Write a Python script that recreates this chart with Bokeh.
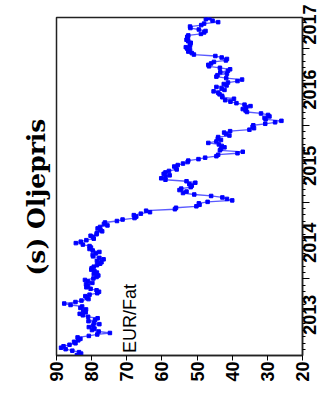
import math
import pandas as pd
from bokeh.plotting import figure
from bokeh.models import Range1d, FixedTicker, Label, CustomJSTickFormatter, DatetimeAxis
from bokeh.embed import file_html
from bokeh.resources import INLINE

# Weekly oil price (EUR per barrel)
oil_2013 = [84.2, 83.0, 83.6, 85.5, 87.4, 88.7, 88.0, 86.3, 84.6, 85.0, 83.8, 83.2, 84.0,
            80.8, 78.4, 74.8, 78.0, 79.9, 79.2, 80.8, 79.6, 77.8, 79.3, 80.9, 79.0, 78.3,
            81.0, 82.5, 83.4, 81.7, 82.4, 81.6, 83.2, 82.7, 86.0, 87.8, 84.6, 82.9, 80.9,
            81.4, 81.8, 80.6, 78.4, 77.9, 78.6, 80.3, 81.5, 81.0, 81.6, 79.8, 81.0, 81.9]
oil_2014 = [79.5, 78.6, 78.1, 79.4, 78.5, 79.2, 80.1, 80.0, 79.4, 78.5, 77.6, 77.2, 78.5,
            76.6, 77.8, 79.6, 79.7, 78.8, 77.8, 79.7, 80.6, 80.2, 80.6, 82.5, 84.5, 83.1,
            81.5, 79.4, 79.6, 80.3, 78.6, 78.5, 77.0, 77.5, 78.3, 77.6, 75.5, 76.5, 76.2,
            72.8, 71.2, 67.8, 67.3, 68.0, 66.0, 63.4, 64.5, 56.3, 56.0, 50.2, 49.3, 49.5]
oil_2015 = [47.0, 40.0, 41.5, 42.8, 46.0, 50.8, 54.0, 53.0, 55.0, 54.5, 51.8, 51.5, 52.2,
            50.5, 53.0, 59.0, 60.2, 59.0, 57.8, 59.5, 59.0, 58.0, 55.8, 56.0, 56.5, 55.5,
            54.0, 52.7, 52.5, 49.6, 47.7, 44.5, 44.0, 38.5, 37.0, 43.5, 43.2, 42.2, 43.0,
            43.8, 46.8, 44.5, 43.2, 44.1, 44.0, 40.8, 41.7, 42.3, 40.6, 35.1, 33.8, 34.2]
oil_2016 = [34.0, 30.6, 27.8, 26.0, 30.5, 30.8, 29.4, 29.8, 31.8, 35.8, 36.2, 37.0, 36.0,
            34.8, 36.5, 38.8, 40.5, 42.0, 39.5, 42.8, 42.9, 43.6, 44.0, 45.3, 42.2, 43.0,
            44.5, 41.6, 42.4, 41.2, 38.5, 37.2, 41.7, 44.5, 44.2, 41.5, 43.4, 41.2, 40.6,
            43.5, 46.6, 46.8, 46.0, 45.2, 41.8, 41.5, 43.0, 44.8, 50.9, 51.5, 52.5, 52.0, 52.8]
oil_2017 = [53.2, 52.0, 52.0, 51.8, 52.5, 53.0, 52.6, 52.8, 52.5, 48.9, 48.0, 47.6, 49.5,
            51.9, 52.0, 48.8, 48.0, 44.0, 45.6, 47.5, 46.5]

first_week = "2013-01-04"
value_ticks = [20, 30, 40, 50, 60, 70, 80, 90]
# anchor dates of the year labels (each label starts at its anchor and runs upward)
year_label_anchors = ["2013-04-10", "2014-03-19", "2015-03-20", "2016-03-16", "2017-01-19"]
year_starts = ["2014-01-01", "2015-01-01", "2016-01-01", "2017-01-01"]
title_text = "(s) Oljepris"
unit_text = "EUR/Fat"

oil_eur = oil_2013 + oil_2014 + oil_2015 + oil_2016 + oil_2017
dates = pd.date_range(first_week, periods=len(oil_eur), freq="7D")


def ms(d):
    return pd.Timestamp(d).value / 1e6


month_starts = [ms(d) for d in pd.date_range("2013-02-01", "2017-05-01", freq="MS")]

W, H = 325, 394
p = figure(width=W, height=H, output_backend="svg", toolbar_location=None,
           x_range=Range1d(90, 20),
           y_range=Range1d(ms(dates[0]) - 86400000 * 2, ms(dates[-1]) + 86400000),
           y_axis_type="datetime", y_axis_location="right",
           title=title_text, title_location="left",
           min_border_left=56, min_border_right=20, min_border_top=17, min_border_bottom=39)

p.background_fill_color = "white"
p.border_fill_color = "white"
p.outline_line_color = "#222222"
p.outline_line_width = 1.5
p.xgrid.visible = False
p.ygrid.visible = False

p.title.text_font = "DejaVu Serif"
p.title.text_font_style = "bold"
p.title.text_font_size = "25px"
p.title.text_color = "black"
p.title.vertical_align = "top"
p.title.standoff = 8
p.title.align = "left"
p.title.offset = 80

# value axis (bottom)
xa = p.xaxis[0]
xa.ticker = FixedTicker(ticks=value_ticks)
xa.major_label_orientation = math.pi / 2
xa.major_label_text_font = "Liberation Sans"
xa.major_label_text_font_style = "bold"
xa.major_label_text_font_size = "18px"
xa.major_label_text_color = "black"
xa.major_label_standoff = 1
xa.major_tick_out = 5
xa.major_tick_in = 0
xa.minor_tick_out = 0
xa.axis_line_color = "#222222"
xa.axis_line_width = 1.5

# time axis (right): year-boundary and month ticks
ya = p.yaxis[0]
ya.ticker = FixedTicker(ticks=[ms(d) for d in year_starts], minor_ticks=month_starts)
ya.formatter = CustomJSTickFormatter(code="return ''")
ya.major_label_text_font_size = "1px"
ya.major_label_standoff = 0
ya.major_tick_out = 7
ya.major_tick_in = 0
ya.minor_tick_out = 3
ya.minor_tick_in = 0
ya.axis_line_color = "#222222"
ya.axis_line_width = 1.5

# year labels (second right axis, labels only)
yl = DatetimeAxis(ticker=FixedTicker(ticks=[ms(d) for d in year_label_anchors], minor_ticks=[]),
                  formatter=CustomJSTickFormatter(code="return String(new Date(tick).getUTCFullYear())"))
yl.major_label_orientation = math.pi / 2
yl.major_label_text_font = "Liberation Sans"
yl.major_label_text_font_style = "bold"
yl.major_label_text_font_size = "18px"
yl.major_label_text_color = "black"
yl.major_label_standoff = 0
yl.major_tick_out = 0
yl.major_tick_in = 0
yl.minor_tick_out = 0
yl.minor_tick_in = 0
yl.axis_line_color = None
p.add_layout(yl, "right")

p.add_layout(Label(x=69.1, y=ms("2013-01-14"), text=unit_text, angle=math.pi / 2,
                   text_align="left", text_baseline="alphabetic",
                   text_font="Liberation Sans", text_font_size="18px", text_color="black"))

p.line(x=oil_eur, y=dates, line_color="#5a5aff", line_width=1.3)
p.scatter(x=oil_eur, y=dates, marker="square", size=3.5, color="#0000ff")

open("out.html", "w").write(file_html(p, INLINE))
